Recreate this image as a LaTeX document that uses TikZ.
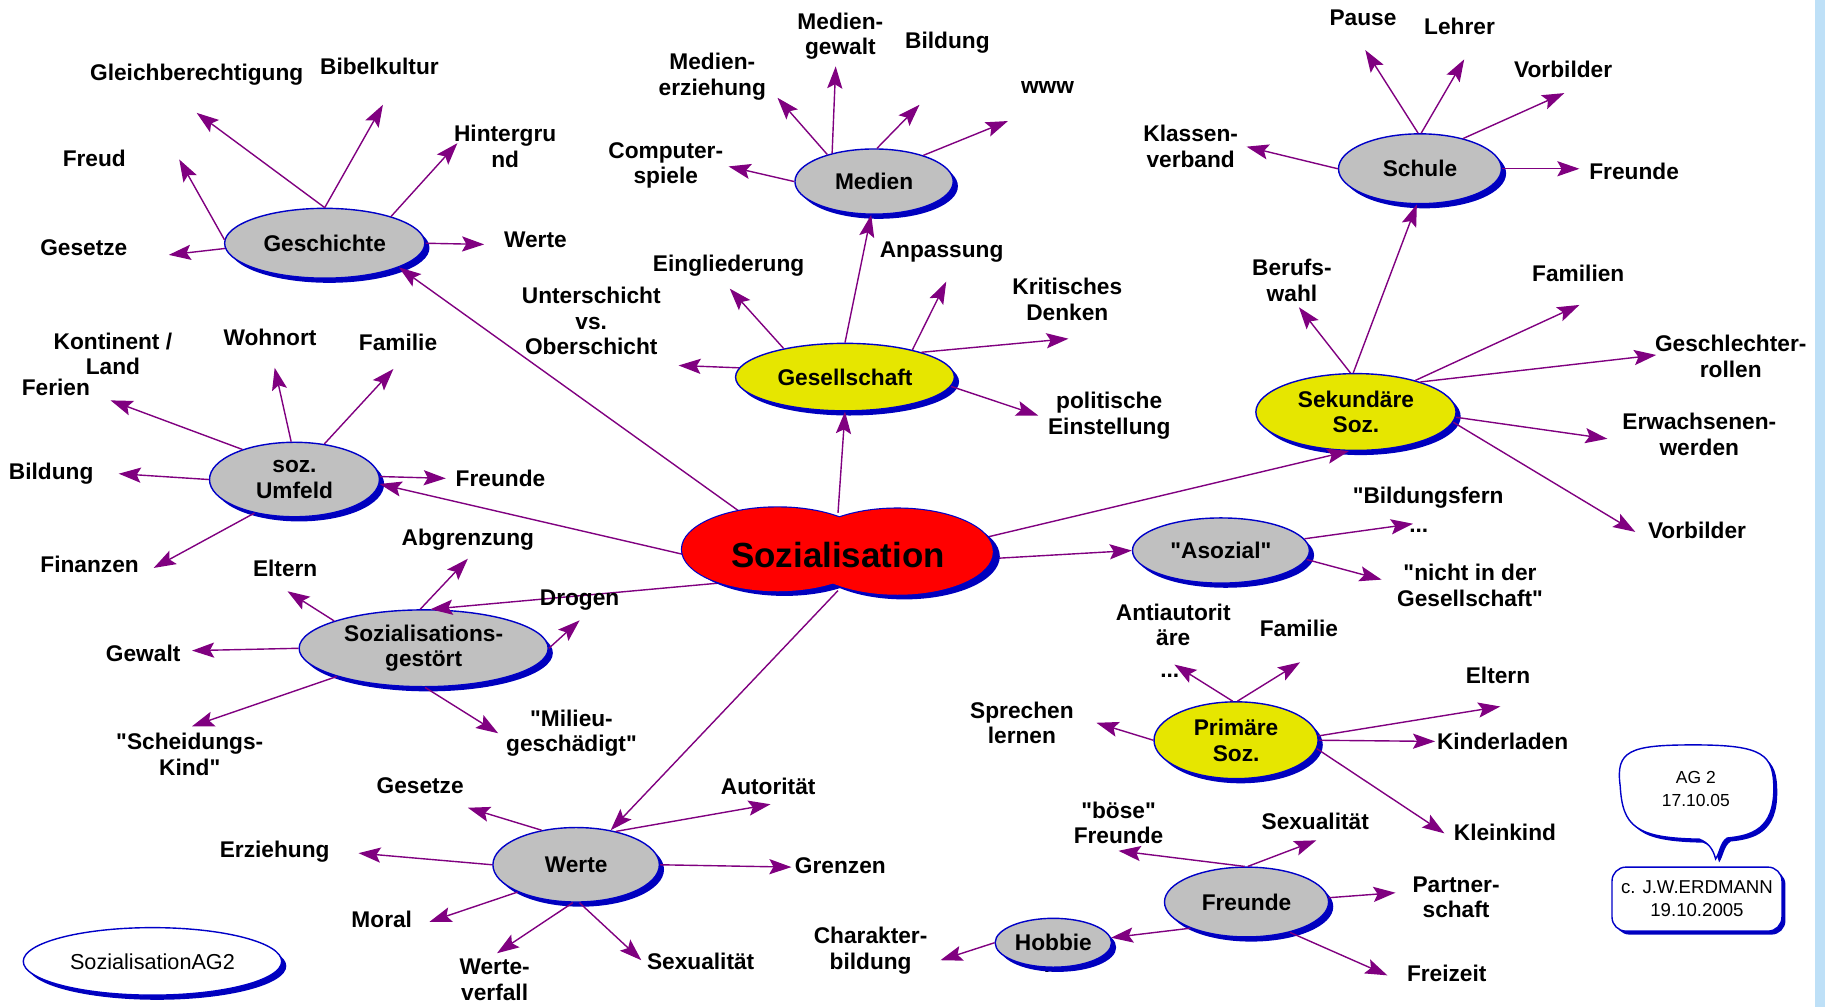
\documentclass[tikz,border=0pt]{standalone}
\usepackage{fontspec}
\setmainfont{Liberation Sans}[Ligatures=TeXOff]
\usetikzlibrary{shapes.geometric,arrows.meta,shadows}
\definecolor{purp}{RGB}{128,0,128}
\definecolor{bord}{RGB}{0,0,200}
\definecolor{shb}{RGB}{0,0,190}
\definecolor{hubgray}{RGB}{192,192,192}
\definecolor{hubyel}{RGB}{230,230,0}
\definecolor{stripblue}{RGB}{190,224,247}
\begin{document}
\begin{tikzpicture}[x=0.5pt,y=-0.5pt,
  lbl/.style={font=\bfseries\fontsize{9.75}{11}\selectfont, align=center, inner sep=0pt},
  hub/.style={ellipse, draw=bord, line width=0.6pt, fill=hubgray, inner sep=0pt,
    font=\bfseries\fontsize{9.75}{11}\selectfont, align=center,
    drop shadow={shadow xshift=2pt, shadow yshift=-2pt, fill=shb, opacity=1}},
  yhub/.style={hub, fill=hubyel},
  sz/.style 2 args={minimum width=#1*0.5pt, minimum height=#2*0.5pt},
  arr/.style={draw=purp, line width=0.6pt, -{Stealth[length=9.5pt,width=6.5pt,inset=1.8pt]}}
]
\fill[white] (0,0) rectangle (1568,865);
\fill[stripblue] (1559,0) rectangle (1568,865);
\useasboundingbox (0,0) rectangle (1568,865);

% dots partly hidden under Hobbie
\node[lbl] (hbdots) at (905,834) {...};

% hub nodes
\node[hub, sz={172}{60}] (ge) at (279,209) {Geschichte};
\node[hub, sz={136}{56}] (me) at (751,156) {Medien};
\node[hub, sz={140}{60}] (sc) at (1220,145) {Schule};
\node[hub, sz={146}{64}] (um) at (253,412) {soz.\\Umfeld};
\node[yhub, sz={188}{58}] (gs) at (726,324) {Gesellschaft};
\node[yhub, sz={172}{66}] (sk) at (1165,354) {Sekundäre\\Soz.};
\node[hub, sz={152}{56}] (as) at (1049,473) {"Asozial"};
\node[hub, sz={214}{66}] (sg) at (364,557) {Sozialisations-\\gestört};
\node[yhub, sz={141}{66}] (pr) at (1062,636) {Primäre\\Soz.};
\node[hub, sz={143}{64}] (we) at (495,743) {Werte};
\node[hub, sz={141}{60}] (fr) at (1071,775) {Freunde};
\node[hub, sz={100}{42}] (hb) at (905,810) {Hobbie};
\node[hub, sz={222}{58}, fill=white, font=\fontsize{9.3}{11}\selectfont] (ag) at (131,826) {SozialisationAG2};

% central anchor node (invisible)
\node[ellipse, sz={250}{66}, inner sep=0pt] (cl) at (720,474) {};

% tip coordinates
\coordinate (t-gle) at (169,97);
\coordinate (t-bib) at (329,90);
\coordinate (t-hin) at (393,123);
\coordinate (t-fre) at (154,137);
\coordinate (t-ges1) at (145,219);
\coordinate (t-wer1) at (416,210);
\coordinate (t-merz) at (668,84);
\coordinate (t-mgew) at (718,57);
\coordinate (t-bil1) at (790,90);
\coordinate (t-www) at (866,104);
\coordinate (t-comp) at (626,143);
\coordinate (t-pau) at (1173,43);
\coordinate (t-leh) at (1258,51);
\coordinate (t-vor1) at (1344,80);
\coordinate (t-kla) at (1071,126);
\coordinate (t-fre1) at (1357,145);
\coordinate (t-ber) at (1116,264);
\coordinate (t-fam) at (1357,262);
\coordinate (t-gsr) at (1423,305);
\coordinate (t-erw) at (1381,377);
\coordinate (t-vor2) at (1405,457);
\coordinate (t-bif) at (1214,450);
\coordinate (t-nid) at (1187,498);
\coordinate (t-dot) at (1009,571);
\coordinate (t-fam2) at (1117,569);
\coordinate (t-spr) at (942,621);
\coordinate (t-elt2) at (1289,607);
\coordinate (t-kin) at (1233,637);
\coordinate (t-kle) at (1241,716);
\coordinate (t-boe) at (961,731);
\coordinate (t-sex2) at (1131,722);
\coordinate (t-par) at (1199,767);
\coordinate (t-frz) at (1192,838);
\coordinate (t-cha) at (808,825);
\coordinate (t-ges2) at (402,694);
\coordinate (t-aut) at (662,691);
\coordinate (t-erz) at (308,733);
\coordinate (t-gre) at (680,745);
\coordinate (t-mor) at (369,792);
\coordinate (t-ver) at (427,819);
\coordinate (t-sex3) at (551,825);
\coordinate (t-fer) at (95,344);
\coordinate (t-woh) at (236,316);
\coordinate (t-fam1) at (338,317);
\coordinate (t-bil2) at (102,407);
\coordinate (t-fin) at (132,488);
\coordinate (t-fru) at (383,411);
\coordinate (t-unt) at (583,314);
\coordinate (t-ein) at (627,248);
\coordinate (t-anp) at (813,242);
\coordinate (t-kri) at (918,291);
\coordinate (t-pol) at (892,357);
\coordinate (t-abg) at (402,480);
\coordinate (t-elt1) at (247,508);
\coordinate (t-dro) at (498,533);
\coordinate (t-gew) at (165,559);
\coordinate (t-sch) at (165,624);
\coordinate (t-mil) at (428,630);

% connectors from the centre
\draw[arr] (cl.160) -- (ge.-18);
\draw[arr] (cl.182) -- (um.-3);
\draw[arr] (cl.197) -- (sg.80);
\draw[arr] (cl.south) -- (we.45);
\draw[arr] (cl.north) -- (gs.-90);
\draw[arr] (cl.5) -- (sk.-100);
\draw[arr] (cl.-3) -- (as.west);
\draw[arr] (gs.north) -- (me.-95);
\draw[arr] (sk.94) -- (sc.-95);
\draw[arr] (fr.205) -- (hb.5);

% Geschichte
\draw[arr] (ge.north) -- (t-gle);
\draw[arr] (ge.north) -- (t-bib);
\draw[arr] (ge.22) -- (t-hin);
\draw[arr] (ge.178) -- (t-fre);
\draw[arr] (ge.183) -- (t-ges1);
\draw[arr] (ge.east) -- (t-wer1);
% Medien
\draw[arr] (me.150) -- (t-merz);
\draw[arr] (me.146) -- (t-mgew);
\draw[arr] (me.85) -- (t-bil1);
\draw[arr] (me.28) -- (t-www);
\draw[arr] (me.west) -- (t-comp);
% Schule
\draw[arr] (sc.93) -- (t-pau);
\draw[arr] (sc.88) -- (t-leh);
\draw[arr] (sc.35) -- (t-vor1);
\draw[arr] (sc.west) -- (t-kla);
\draw[arr] (sc.east) -- (t-fre1);
% Sekundaere
\draw[arr] (sk.98) -- (t-ber);
\draw[arr] (sk.28) -- (t-fam);
\draw[arr] (sk.25) -- (t-gsr);
\draw[arr] (sk.-3) -- (t-erw);
\draw[arr] (sk.-6) -- (t-vor2);
% Asozial
\draw[arr] (as.8) -- (t-bif);
\draw[arr] (as.-6) -- (t-nid);
% Primaere
\draw[arr] (pr.95) -- (t-dot);
\draw[arr] (pr.88) -- (t-fam2);
\draw[arr] (pr.west) -- (t-spr);
\draw[arr] (pr.3) -- (t-elt2);
\draw[arr] (pr.0) -- (t-kin);
\draw[arr] (pr.-6) -- (t-kle);
% Freunde / Hobbie
\draw[arr] (fr.93) -- (t-boe);
\draw[arr] (fr.88) -- (t-sex2);
\draw[arr] (fr.3) -- (t-par);
\draw[arr] (fr.-35) -- (t-frz);
\draw[arr] (hb.west) -- (t-cha);
% Werte
\draw[arr] (we.135) -- (t-ges2);
\draw[arr] (we.40) -- (t-aut);
\draw[arr] (we.west) -- (t-erz);
\draw[arr] (we.east) -- (t-gre);
\draw[arr] (we.205) -- (t-mor);
\draw[arr] (we.265) -- (t-ver);
\draw[arr] (we.-85) -- (t-sex3);
% Umfeld
\draw[arr] (um.150) -- (t-fer);
\draw[arr] (um.95) -- (t-woh);
\draw[arr] (um.50) -- (t-fam1);
\draw[arr] (um.west) -- (t-bil2);
\draw[arr] (um.220) -- (t-fin);
\draw[arr] (um.2) -- (t-fru);
% Gesellschaft
\draw[arr] (gs.175) -- (t-unt);
\draw[arr] (gs.155) -- (t-ein);
\draw[arr] (gs.22) -- (t-anp);
\draw[arr] (gs.18) -- (t-kri);
\draw[arr] (gs.-5) -- (t-pol);
% Sozialisationsgestoert
\draw[arr] (sg.95) -- (t-abg);
\draw[arr] (sg.163) -- (t-elt1);
\draw[arr] (sg.east) -- (t-dro);
\draw[arr] (sg.west) -- (t-gew);
\draw[arr] (sg.198) -- (t-sch);
\draw[arr] (sg.272) -- (t-mil);

% the cloud
\fill[shb] (674,476) ellipse [x radius=41pt, y radius=18pt];
\fill[shb] (777,478) ellipse [x radius=41pt, y radius=18.5pt];
\draw[bord, line width=1pt] (668,472) ellipse [x radius=41pt, y radius=18pt];
\draw[bord, line width=1pt] (771,474) ellipse [x radius=41pt, y radius=18.5pt];
\fill[red] (668,472) ellipse [x radius=41pt, y radius=18pt];
\fill[red] (771,474) ellipse [x radius=41pt, y radius=18.5pt];
\node[font=\bfseries\fontsize{15}{17}\selectfont, inner sep=0pt] (cltext) at (720,477) {Sozialisation};

% labels: Geschichte
\node[lbl] (l-gle) at (169,64) {Gleichberechtigung};
\node[lbl] (l-bib) at (326,57) {Bibelkultur};
\node[lbl] (l-hin) at (434,126) {Hintergru\\nd};
\node[lbl] (l-fre) at (81,136) {Freud};
\node[lbl] (l-ges1) at (72,213) {Gesetze};
\node[lbl] (l-wer1) at (460,206) {Werte};
% Medien
\node[lbl] (l-merz) at (612,66) {Medien-\\erziehung};
\node[lbl] (l-mgew) at (722,31) {Medien-\\gewalt};
\node[lbl] (l-bil1) at (814,37) {Bildung};
\node[lbl] (l-www) at (900,75) {www};
\node[lbl] (l-comp) at (572,142) {Computer-\\spiele};
% Schule
\node[lbl] (l-pau) at (1171,15) {Pause};
\node[lbl] (l-leh) at (1254,23) {Lehrer};
\node[lbl] (l-vor1) at (1343,60) {Vorbilder};
\node[lbl] (l-kla) at (1023,126) {Klassen-\\verband};
\node[lbl] (l-fre1) at (1404,147) {Freunde};
% Sekundaere
\node[lbl] (l-ber) at (1110,241) {Berufs-\\wahl};
\node[lbl] (l-fam) at (1356,235) {Familien};
\node[lbl] (l-gsr) at (1487,306) {Geschlechter-\\rollen};
\node[lbl] (l-erw) at (1460,373) {Erwachsenen-\\werden};
\node[lbl] (l-vor2) at (1458,456) {Vorbilder};
% Asozial
\node[lbl] (l-bif) at (1227,428) {"Bildungsfern};
\node[lbl] (l-bifd) at (1219,456) {...};
\node[lbl] (l-nid) at (1263,503) {"nicht in der\\Gesellschaft"};
% Primaere
\node[lbl] (l-ant) at (1008,537) {Antiautorit\\äre};
\node[lbl] (l-dot) at (1005,581) {...};
\node[lbl] (l-fam2) at (1116,540) {Familie};
\node[lbl] (l-elt2) at (1287,580) {Eltern};
\node[lbl] (l-kin) at (1291,637) {Kinderladen};
\node[lbl] (l-kle) at (1293,715) {Kleinkind};
\node[lbl] (l-spr) at (878,621) {Sprechen\\lernen};
% Freunde
\node[lbl] (l-boe) at (961,707) {"böse"\\Freunde};
\node[lbl] (l-sex2) at (1130,706) {Sexualität};
\node[lbl] (l-par) at (1251,771) {Partner-\\schaft};
\node[lbl] (l-frz) at (1243,836) {Freizeit};
\node[lbl] (l-cha) at (748,817) {Charakter-\\bildung};
% Werte
\node[lbl] (l-ges2) at (361,675) {Gesetze};
\node[lbl] (l-aut) at (660,676) {Autorität};
\node[lbl] (l-erz) at (236,732) {Erziehung};
\node[lbl] (l-gre) at (722,744) {Grenzen};
\node[lbl] (l-mor) at (328,790) {Moral};
\node[lbl] (l-ver) at (425,842) {Werte-\\verfall};
\node[lbl] (l-sex3) at (602,826) {Sexualität};
% Umfeld
\node[lbl] (l-kon) at (97,304) {Kontinent /\\Land};
\node[lbl] (l-fer) at (48,333) {Ferien};
\node[lbl] (l-woh) at (232,290) {Wohnort};
\node[lbl] (l-fam1) at (342,294) {Familie};
\node[lbl] (l-bil2) at (44,407) {Bildung};
\node[lbl] (l-fru) at (430,411) {Freunde};
\node[lbl] (l-fin) at (77,485) {Finanzen};
% Gesellschaft
\node[lbl] (l-unt) at (508,276) {Unterschicht\\vs.\\Oberschicht};
\node[lbl] (l-ein) at (626,228) {Eingliederung};
\node[lbl] (l-anp) at (809,217) {Anpassung};
\node[lbl] (l-kri) at (917,257) {Kritisches\\Denken};
\node[lbl] (l-pol) at (953,357) {politische\\Einstellung};
% Sozialisationsgestoert
\node[lbl] (l-abg) at (402,464) {Abgrenzung};
\node[lbl] (l-elt1) at (245,488) {Eltern};
\node[lbl] (l-dro) at (498,516) {Drogen};
\node[lbl] (l-gew) at (123,561) {Gewalt};
\node[lbl] (l-sch) at (163,648) {"Scheidungs-\\Kind"};
\node[lbl] (l-mil) at (491,630) {"Milieu-\\geschädigt"};

% callout bubble
\fill[shb] (1395,678) .. controls (1391,648) and (1403,643) .. (1458,643)
  .. controls (1518,643) and (1527,651) .. (1527,681)
  .. controls (1527,715) and (1508,721) .. (1487,723)
  .. controls (1481,727) and (1481,735) .. (1477,741)
  .. controls (1475,733) and (1471,727) .. (1463,724)
  .. controls (1408,723) and (1397,713) .. cycle;
\draw[bord, fill=white, line width=0.6pt] (1392,675) .. controls (1388,645) and (1400,640) .. (1455,640)
  .. controls (1515,640) and (1524,648) .. (1524,678)
  .. controls (1524,712) and (1505,718) .. (1484,720)
  .. controls (1478,724) and (1478,732) .. (1474,738)
  .. controls (1472,730) and (1468,724) .. (1460,721)
  .. controls (1405,720) and (1394,710) .. cycle;
\node[font=\fontsize{7.5}{10}\selectfont, align=center, inner sep=0pt] (agtext) at (1457,678) {AG 2\\17.10.05};

% author box
\fill[shb, rounded corners=6pt] (1388,748) rectangle (1534,803);
\draw[bord, fill=white, line width=0.6pt, rounded corners=6pt] (1385,745) rectangle (1531,800);
\node[font=\fontsize{8}{10}\selectfont, align=center, inner sep=0pt] (erd) at (1458,772) {c. J.W.ERDMANN\\19.10.2005};
\end{tikzpicture}
\end{document}
